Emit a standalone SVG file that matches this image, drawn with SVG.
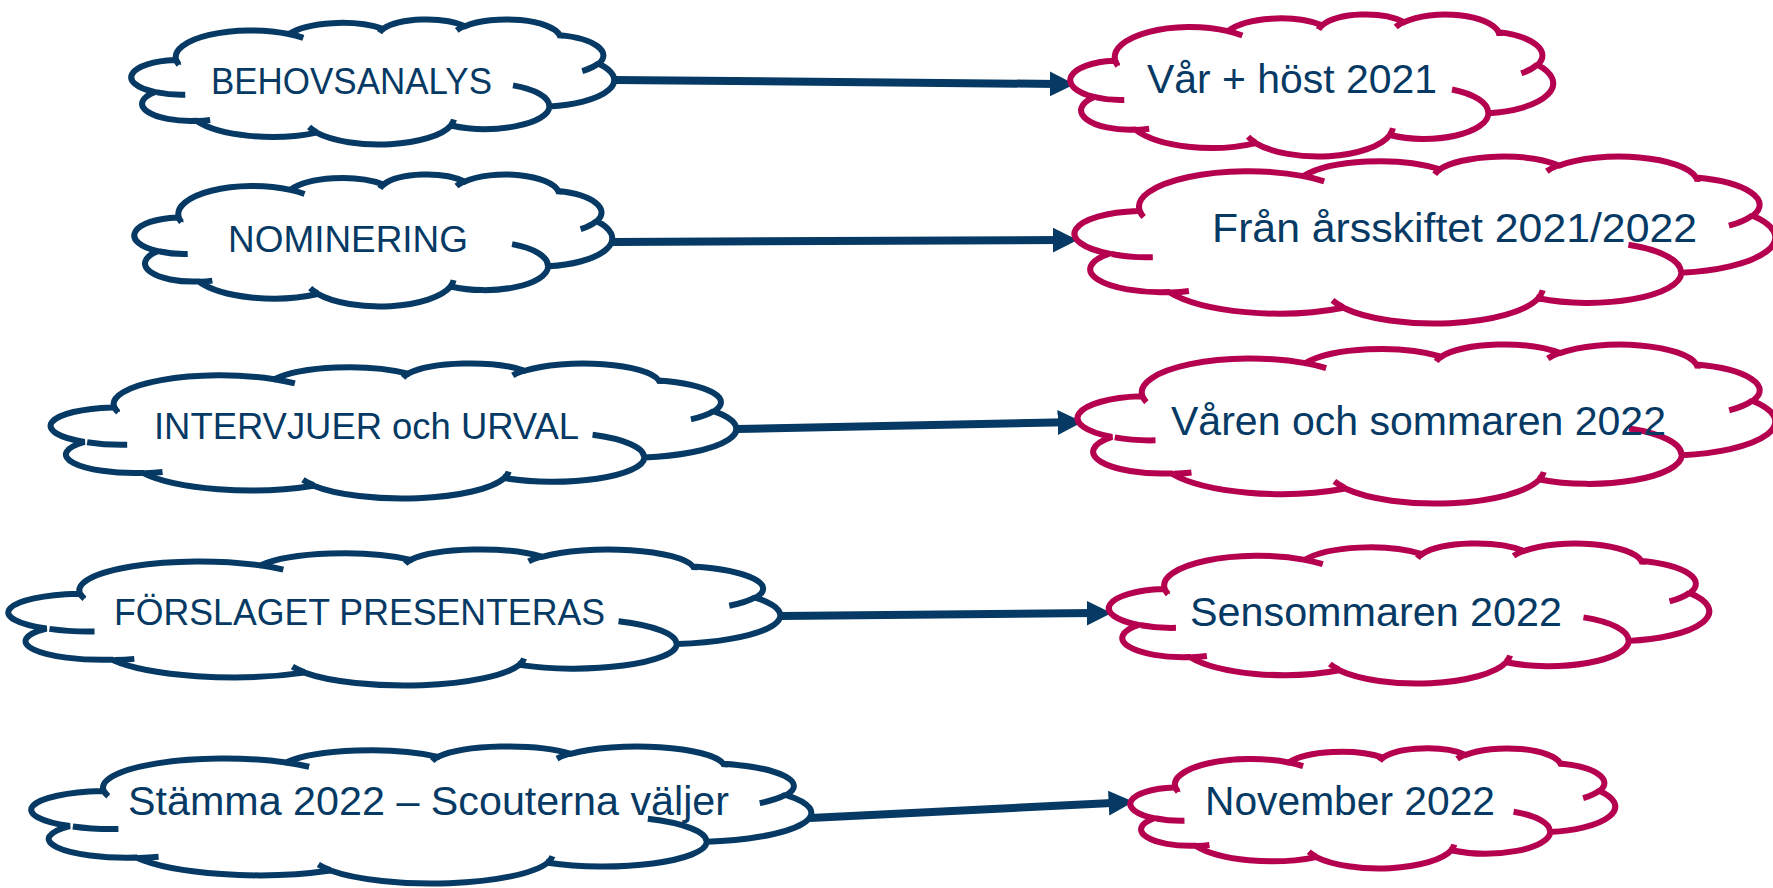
<svg xmlns="http://www.w3.org/2000/svg" xmlns:xlink="http://www.w3.org/1999/xlink" width="1773" height="888" viewBox="0 0 1773 888">
<style>
  .cl-out { fill: #ffffff; stroke-width: 6; vector-effect: non-scaling-stroke; stroke-linejoin: miter; }
  .cl-in { fill: none; stroke-width: 6; vector-effect: non-scaling-stroke; }
  .navy { stroke: #063A64; }
  .red { stroke: #B5004F; }
  .lbl { font-family: "Liberation Sans", Arial, sans-serif; fill: #063A64; text-anchor: middle; }
  .conn { stroke: #063A64; stroke-width: 8; fill: none; marker-end: url(#arrow); }
</style>
<defs>
  <marker id="arrow" markerUnits="userSpaceOnUse" markerWidth="25" markerHeight="25" viewBox="0 0 24 24" refX="8" refY="12" orient="auto">
    <path d="M0 0 L24 12 L0 24 Z" fill="#063A64"/>
  </marker>
  <g id="cloud">
    <path class="cl-out" d="M3900 14370 A6753 9190 0 0 1 14006 5203 A5333 7267 0 0 1 22457 3431 A4365 5945 0 0 1 29835 2480 A4857 6595 0 0 1 38319 5577 A5333 7273 0 0 1 41820 15461 A6775 9220 0 0 1 37405 30201 A5785 7867 0 0 1 28556 36812 A6752 9215 0 0 1 16482 39265 A7720 10543 0 0 1 5685 35174 A4360 5918 0 0 1 1994 25251 A4345 5945 0 0 1 3744 14208 Z"/>
    <path class="cl-in" d="M4693 26177 A4345 5945 0 0 1 2160 25380 M6928 34899 A4360 5918 0 0 1 5819 35281 M16478 39090 A6752 9215 0 0 1 15809 37347 M28827 34751 A6752 9215 0 0 1 28560 36660 M34129 22954 A5785 7867 0 0 1 37380 30090 M41798 15354 A5333 7273 0 0 1 40350 18030 M38324 5426 A4857 6595 0 0 1 38400 6690 M29078 3952 A4857 6595 0 0 1 29821 2338 M22141 4720 A4365 5945 0 0 1 22501 3329 M14000 5192 A6753 9190 0 0 1 15299 6540 M4127 15789 A6753 9190 0 0 1 3900 14370"/>
  </g>
</defs>

<g id="connectors">
  <line class="conn" x1="614" y1="80" x2="1058" y2="84"/>
  <line class="conn" x1="612" y1="242" x2="1061" y2="240"/>
  <line class="conn" x1="737" y1="429" x2="1066" y2="422.3"/>
  <line class="conn" x1="780" y1="616" x2="1095" y2="613.1"/>
  <line class="conn" x1="810" y1="818" x2="1117" y2="802.7"/>
</g>

<g id="node-behovsanalys">
  <use href="#cloud" class="navy" transform="translate(133 19) scale(0.011134 0.0028935)"/>
  <text class="lbl" x="351.5" y="94" font-size="36" textLength="281" lengthAdjust="spacingAndGlyphs">BEHOVSANALYS</text>
</g>
<g id="node-nominering">
  <use href="#cloud" class="navy" transform="translate(136 174) scale(0.011019 0.0030556)"/>
  <text class="lbl" x="348" y="252" font-size="36" textLength="240" lengthAdjust="spacingAndGlyphs">NOMINERING</text>
</g>
<g id="node-intervjuer">
  <use href="#cloud" class="navy" transform="translate(53 363) scale(0.015810 0.0031250)"/>
  <text class="lbl" x="366.5" y="439" font-size="36" textLength="425" lengthAdjust="spacingAndGlyphs">INTERVJUER och URVAL</text>
</g>
<g id="node-forslaget">
  <use href="#cloud" class="navy" transform="translate(11 549) scale(0.017801 0.0031481)"/>
  <text class="lbl" x="359.5" y="625" font-size="36" textLength="491" lengthAdjust="spacingAndGlyphs">FÖRSLAGET PRESENTERAS</text>
</g>
<g id="node-stamma">
  <use href="#cloud" class="navy" transform="translate(34 746) scale(0.017986 0.0031713)"/>
  <text class="lbl" x="428.5" y="815" font-size="40" textLength="601" lengthAdjust="spacingAndGlyphs">Stämma 2022 – Scouterna väljer</text>
</g>

<g id="node-var-host">
  <use href="#cloud" class="red" transform="translate(1072 14) scale(0.011134 0.0032870)"/>
  <text class="lbl" x="1292" y="93" font-size="40" textLength="290" lengthAdjust="spacingAndGlyphs">Vår + höst 2021</text>
</g>
<g id="node-arsskiftet">
  <use href="#cloud" class="red" transform="translate(1077 156) scale(0.016157 0.0038657)"/>
  <text class="lbl" x="1454.5" y="242" font-size="41" textLength="485" lengthAdjust="spacingAndGlyphs">Från årsskiftet 2021/2022</text>
</g>
<g id="node-varen-sommaren">
  <use href="#cloud" class="red" transform="translate(1080 344) scale(0.016088 0.0036806)"/>
  <text class="lbl" x="1418.5" y="435" font-size="41" textLength="495" lengthAdjust="spacingAndGlyphs">Våren och sommaren 2022</text>
</g>
<g id="node-sensommaren">
  <use href="#cloud" class="red" transform="translate(1111 543) scale(0.013843 0.0032407)"/>
  <text class="lbl" x="1376" y="626" font-size="41" textLength="372" lengthAdjust="spacingAndGlyphs">Sensommaren 2022</text>
</g>
<g id="node-november">
  <use href="#cloud" class="red" transform="translate(1132 748) scale(0.011181 0.0027778)"/>
  <text class="lbl" x="1350" y="815" font-size="40" textLength="290" lengthAdjust="spacingAndGlyphs">November 2022</text>
</g>
</svg>
